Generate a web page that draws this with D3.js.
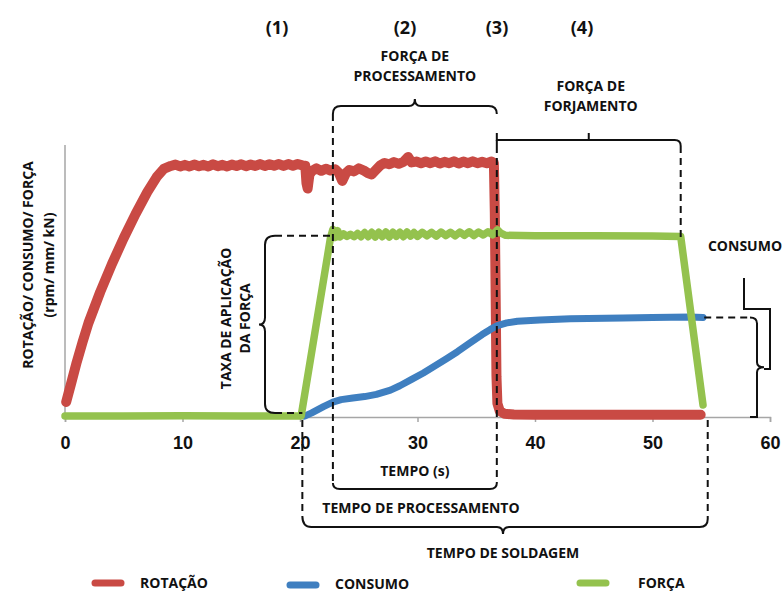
<!DOCTYPE html>
<html><head><meta charset="utf-8">
<script src="https://cdn.jsdelivr.net/npm/d3@7"></script>
<style>
html,body{margin:0;padding:0;background:#fff;}
svg{display:block;}
</style></head>
<body><svg id="c" width="784" height="592"></svg>
<script>
// ---------------- data ----------------
const xTicks = [0, 10, 20, 30, 40, 50, 60];
const seriesNames = ["ROTAÇÃO", "CONSUMO", "FORÇA"];
const seriesColors = ["#c94a44", "#3f7fc0", "#94c24e"];

const rotacao = [[0.1,5.5],[0.5,12],[1,20.2],[1.5,27.6],[2,34.6],[3,46],[4,56.3],[5,65.8],[6,74.6],[7,82.7],[7.8,88.2],[8.4,91.2],[9,92.3],
[9.4,92.8],[9.8,92.1],[10.2,92.7],[10.6,92.1],[11.0,92.8],[11.4,92.2],[11.8,92.7],[12.2,92.1],[12.6,92.9],[13.0,92.2],[13.4,92.7],[13.8,92.1],
[14.2,92.8],[14.6,92.3],[15.0,92.9],[15.4,92.2],[15.8,92.8],[16.2,92.3],[16.6,93.0],[17.0,92.3],[17.4,92.9],[17.8,92.4],[18.2,93.0],[18.6,92.3],
[19.0,93.0],[19.4,92.4],[19.8,93.0],[20.2,92.5],[20.45,92.4],[20.55,86],[20.65,84],[20.8,89],[21.0,90.4],[21.4,91.4],[21.8,90.5],[22.2,91.3],
[22.6,90.6],[23.0,91.1],[23.3,89.8],[23.6,86.8],[23.9,89.6],[24.2,90.8],[24.6,90.3],[25.0,91.4],[25.4,90.7],[25.8,89.6],[26.1,89.2],[26.4,90.6],
[26.8,92.4],[27.2,93.4],[27.6,92.9],[28.0,93.7],[28.4,93.1],[28.8,93.8],[29.2,95.6],[29.5,93.6],[29.9,93.9],[30.3,93.3],[30.7,93.9],[31.1,93.3],
[31.5,94.0],[31.9,93.2],[32.3,93.8],[32.7,93.3],[33.1,94.0],[33.5,93.2],[33.9,93.9],[34.3,93.3],[34.7,94.0],[35.1,93.3],[35.5,93.8],[35.9,93.3],
[36.3,93.9],[36.5,93.4],[36.58,75],[36.65,45],[36.72,15],[36.8,5],[37.0,2.2],[37.4,1.2],[38.2,0.9],[40,0.8],[45,0.8],[50,0.8],[54.1,0.8]];

const consumo = [[20.4,0.3],[21,1.5],[22,3.8],[22.8,5.5],[23.5,6.4],[24.5,7.0],[25.5,7.5],[26.5,8.3],[27.7,9.9],[28.5,11.5],[29.5,13.8],
[30.5,16.2],[31.5,18.8],[32.5,21.5],[33.4,24.0],[34.5,27.3],[35.5,30.3],[36.2,32.2],[36.8,33.6],[37.6,34.6],[38.5,35.2],[40.4,35.7],
[43,36.1],[47.5,36.4],[50,36.6],[53.2,36.8],[54.3,36.6]];

const forca = [[0,0.4],[5,0.4],[10,0.5],[15,0.4],[20.1,0.4],[22.6,66.0],[22.8,69.0],[23.0,66.0],[23.2,68.5],[23.4,66.2],[23.7,67.3],
[24.0,66.4],[24.3,67.2],[24.6,66.3],[24.9,67.5],[25.2,66.3],[25.5,67.8],[25.8,66.3],[26.1,67.9],[26.4,66.2],[26.7,67.9],[27.0,66.3],
[27.3,68.0],[27.6,66.2],[27.9,67.9],[28.2,66.4],[28.5,67.9],[28.8,66.3],[29.1,68.0],[29.4,66.5],[29.7,67.8],[30.0,66.4],[30.4,67.9],
[30.8,66.6],[31.2,67.9],[31.6,66.5],[32.0,68.0],[32.4,66.7],[32.8,67.9],[33.2,66.6],[33.6,68.0],[34.0,66.8],[34.4,68.1],[34.8,66.7],
[35.2,68.0],[35.6,66.9],[36.0,68.1],[36.4,67.0],[36.8,68.8],[37.1,67.6],[37.5,66.8],[40,66.6],[45,66.6],[50,66.5],[52.4,66.4],[54.3,4.4]];

const phaseLabels = ["(1)", "(2)", "(3)", "(4)"];

// ---------------- scales ----------------
const svg = d3.select("#c");
const x = d3.scaleLinear().domain([0, 60]).range([65, 770]);
const y = d3.scaleLinear().domain([0, 100]).range([417, 145]);
const FONT = "'Open Sans', 'DejaVu Sans', sans-serif";

// axes
const xAxis = d3.axisBottom(x).tickValues(xTicks).tickSize(5).tickPadding(14).tickFormat(d3.format("d"));
const gx = svg.append("g").attr("transform", `translate(0,${y(0)})`).call(xAxis);
gx.select(".domain").attr("stroke", "#a6a6a6").attr("stroke-width", 1.5);
gx.selectAll(".tick line").attr("stroke", "#a6a6a6").attr("stroke-width", 1.5);
gx.selectAll(".tick text").attr("font-family", "'Liberation Sans', Arial, sans-serif")
  .attr("font-weight", "bold").attr("font-size", 18).attr("fill", "#111");
svg.append("line").attr("x1", x(0)).attr("x2", x(0)).attr("y1", y(0)).attr("y2", y(100))
  .attr("stroke", "#a6a6a6").attr("stroke-width", 1.5);

// ---------------- series ----------------
const line = d3.line().x(d => x(d[0])).y(d => y(d[1]));
const drawSeries = (data, color, w) => svg.append("path").datum(data).attr("d", line)
  .attr("fill", "none").attr("stroke", color).attr("stroke-width", w)
  .attr("stroke-linejoin", "round").attr("stroke-linecap", "round");
drawSeries(rotacao, seriesColors[0], 10);
drawSeries(consumo, seriesColors[1], 7);
drawSeries(forca, seriesColors[2], 7.5);

// ---------------- annotations ----------------
const ink = "#111";
const dashed = (x1, y1, x2, y2) => svg.append("line").attr("x1", x1).attr("y1", y1).attr("x2", x2).attr("y2", y2)
  .attr("stroke", ink).attr("stroke-width", 2).attr("stroke-dasharray", "7,5");
const solid = d => svg.append("path").attr("d", d).attr("fill", "none").attr("stroke", ink).attr("stroke-width", 2);
const label = (tx, ty, txt, size, anchor) => svg.append("text").attr("x", tx).attr("y", ty).text(txt)
  .attr("font-family", FONT).attr("font-weight", "bold").attr("font-size", size)
  .attr("text-anchor", anchor || "middle").attr("fill", ink);

const xa = x(22.8), xb = x(36.75), xs = x(20.2), xf = x(52.4), xe = x(54.7);

// phase numbers
phaseLabels.forEach((p, i) => label([277, 405, 497, 582][i], 34, p, 18));

// força de processamento bracket
label((xa + xb) / 2, 61, "FORÇA DE", 14);
label((xa + xb) / 2, 81, "PROCESSAMENTO", 14);
const mA = (xa + xb) / 2;
solid(`M${xa},114 Q${xa},106 ${xa+8},106 L${mA-6},106 Q${mA},106 ${mA},99 Q${mA},106 ${mA+6},106 L${xb-8},106 Q${xb},106 ${xb},114`);
dashed(xa, 114, xa, 483);
dashed(xb, 146, xb, 483);

// força de forjamento bracket
const mB = (xb + xf) / 2;
label(mB + 2, 91, "FORÇA DE", 14);
label(mB + 2, 111, "FORJAMENTO", 14);
solid(`M${xb},133 L${xb},140 L${xf-6},140 Q${xf},140 ${xf},146 M${mB},140 L${mB},133`);
dashed(xb, 140, xb, 146);
dashed(xf, 146, xf, 240);

// tempo (s) box
label((xa + xb) / 2, 476, "TEMPO (s)", 14);
solid(`M${xa},483 Q${xa},489 ${xa+7},489 L${xb-7},489 Q${xb},489 ${xb},483`);

// tempo de processamento / soldagem
label(421, 513, "TEMPO DE PROCESSAMENTO", 14);
dashed(xs, 420, xs, 516);
dashed(xe, 420, xe, 519);
const mC = 503;
solid(`M${xs},516 Q${xs},527 ${xs+9},527 L${mC-6},527 Q${mC},527 ${mC},534 Q${mC},527 ${mC+6},527 L${xe-8},527 Q${xe},527 ${xe},519`);
label(mC, 558, "TEMPO DE SOLDAGEM", 14);

// taxa de aplicação bracket
const yTop = y(66.6), yBot = y(1.5);
dashed(275, yTop, xa, yTop);
dashed(275, yBot, xs, yBot);
const yMid = (yTop + yBot) / 2;
solid(`M275,${yTop} Q265,${yTop} 265,${yTop+9} L265,${yMid-7} Q265,${yMid} 259,${yMid} Q265,${yMid} 265,${yMid+7} L265,${yBot-9} Q265,${yBot} 275,${yBot}`);
svg.append("g").attr("transform", `translate(231,${yMid-6}) rotate(-90)`).call(g => {
  g.append("text").attr("x", 0).attr("y", 0).text("TAXA DE APLICAÇÃO");
  g.append("text").attr("x", 0).attr("y", 19).text("DA FORÇA");
  g.selectAll("text").attr("font-family", FONT).attr("font-weight", "bold").attr("font-size", 14)
    .attr("text-anchor", "middle").attr("fill", ink);
});

// consumo bracket on right
const yc = y(36.6);
label(745, 251, "CONSUMO", 14);
dashed(x(54.4), yc, 750, yc);
const ycm = (yc + y(0)) / 2;
solid(`M750,${yc} Q757,${yc} 757,${yc+6} L757,${ycm-5} Q757,${ycm} 764,${ycm} Q757,${ycm} 757,${ycm+5} L757,${y(0)} L750,${y(0)}`);
solid(`M744,278 L744,309 L770,309 L770,369 L764,369`);

// y axis title
svg.append("g").attr("transform", `translate(33,265) rotate(-90)`).call(g => {
  g.append("text").attr("x", 0).attr("y", 0).text("ROTAÇÃO/ CONSUMO/ FORÇA");
  g.append("text").attr("x", 0).attr("y", 21).text("(rpm/ mm/ kN)");
  g.selectAll("text").attr("font-family", FONT).attr("font-weight", "bold").attr("font-size", 14)
    .attr("text-anchor", "middle").attr("fill", ink);
});

// legend
const legX = [95, 290, 580], legY = [583, 585, 583], legTX = [140, 335, 638];
seriesNames.forEach((n, i) => {
  svg.append("line").attr("x1", legX[i]).attr("x2", legX[i] + 26).attr("y1", legY[i]).attr("y2", legY[i])
    .attr("stroke", seriesColors[i]).attr("stroke-width", 7).attr("stroke-linecap", "round");
  label(legTX[i], Math.min(legY[i] + 5, 589), n, 14, "start");
});
</script></body></html>
